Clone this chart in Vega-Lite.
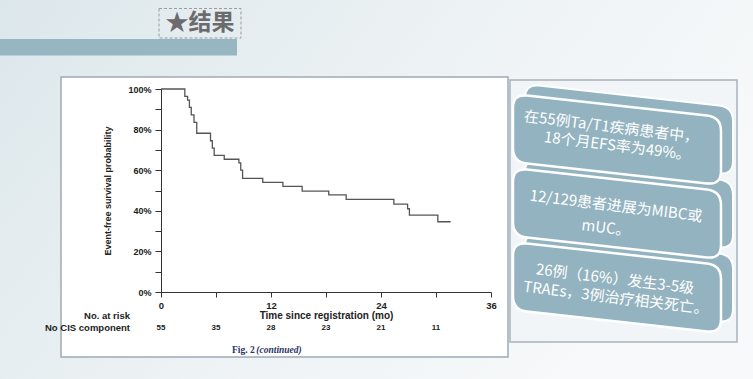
{
  "$schema": "https://vega.github.io/schema/vega-lite/v6.json",
  "width": 330,
  "height": 203,
  "autosize": {"type": "none"},
  "padding": {"left": 161, "top": 89, "right": 262, "bottom": 87},
  "background": "#eef3f5",
  "config": {
    "view": {"stroke": null},
    "axis": {
      "grid": false,
      "domainColor": "#333333",
      "tickColor": "#333333",
      "domainWidth": 1,
      "tickWidth": 1,
      "labelColor": "#222222",
      "titleColor": "#222222",
      "labelFont": "Liberation Sans",
      "titleFont": "Liberation Sans",
      "labelFontWeight": "bold",
      "titleFontWeight": "bold"
    }
  },
  "encoding": {
    "x": {
      "field": "t",
      "type": "quantitative",
      "scale": {"domain": [0, 36], "nice": false, "zero": false},
      "axis": {
        "zindex": 2,
        "title": "Time since registration (mo)",
        "values": [0, 6, 12, 18, 24, 30, 36],
        "labelExpr": "datum.value % 12 === 0 ? datum.label : ''",
        "tickSize": 5,
        "labelPadding": 3,
        "labelFontSize": 9.5,
        "titleFontSize": 10,
        "titlePadding": 1,
        "labelFlush": false,
        "labelOverlap": false
      }
    },
    "y": {
      "field": "p",
      "type": "quantitative",
      "scale": {"domain": [0, 1], "nice": false},
      "axis": {
        "zindex": 2,
        "title": "Event-free survival probability",
        "values": [0, 0.1, 0.2, 0.3, 0.4, 0.5, 0.6, 0.7, 0.8, 0.9, 1],
        "labelExpr": "round(datum.value * 10) % 2 === 0 ? format(datum.value, '.0%') : ''",
        "tickSize": 6,
        "labelPadding": 4,
        "labelFontSize": 9,
        "titleFontSize": 9,
        "titlePadding": 15,
        "labelOverlap": false
      }
    }
  },
  "layer": [
    {
      "data": {"values": [{"t": -18, "t2": 65, "p": 1.45, "p2": -0.44}]},
      "mark": {
        "type": "rect",
        "fill": {
          "gradient": "linear",
          "x1": 0, "y1": 0, "x2": 1, "y2": 0.4,
          "stops": [
            {"offset": 0, "color": "#dce7eb"},
            {"offset": 0.55, "color": "#edf2f4"},
            {"offset": 1, "color": "#f7f9fa"}
          ]
        }
      },
      "encoding": {"x2": {"field": "t2"}, "y2": {"field": "p2"}}
    },
    {
      "data": {"values": [{"t": -18, "t2": 8.29, "p": 1.2463, "p2": 1.165}]},
      "mark": {"type": "rect", "fill": "#96b6c2"},
      "encoding": {"x2": {"field": "t2"}, "y2": {"field": "p2"}}
    },
    {
      "data": {"values": [{"t": -0.218, "t2": 8.727, "p": 1.3966, "p2": 1.2512}]},
      "mark": {"type": "rect", "fill": "#ffffff", "fillOpacity": 0, "stroke": "#9b9b9b", "strokeWidth": 1, "strokeDash": [3, 2]},
      "encoding": {"x2": {"field": "t2"}, "y2": {"field": "p2"}}
    },
    {
      "data": {"values": [{"t": 4.255, "p": 1.3251, "label": "★结果"}]},
      "mark": {"type": "text", "font": "Noto Sans CJK SC", "fontWeight": "bold", "fontSize": 23, "color": "#6b6b6e", "align": "center", "baseline": "middle"},
      "encoding": {"text": {"field": "label"}}
    },
    {
      "data": {"values": [{"t": -10.909, "t2": 37.855, "p": 1.0591, "p2": -0.3202}]},
      "mark": {"type": "rect", "fill": "#ffffff", "stroke": "#9eabb6", "strokeWidth": 1.5},
      "encoding": {"x2": {"field": "t2"}, "y2": {"field": "p2"}}
    },
    {
      "data": {"values": [{"t": 38.073, "t2": 62.836, "p": 1.0443, "p2": -0.2463}]},
      "mark": {"type": "rect", "fill": "#f1f5f7", "stroke": "#a9b2b9", "strokeWidth": 1.5},
      "encoding": {"x2": {"field": "t2"}, "y2": {"field": "p2"}}
    },
    {
      "data": {"values": [{"t": 49.745, "p": 0.7512}, {"t": 49.745, "p": 0.3867}, {"t": 49.745, "p": 0.0222}]},
      "mark": {
        "type": "point",
        "shape": "M -0.65 -0.4496 L 0.85 -0.2837 Q 0.9667 -0.2708 0.9667 -0.1541 L 0.9667 0.1792 Q 0.9667 0.2959 0.85 0.283 L -0.65 0.1171 Q -0.7667 0.1042 -0.7667 -0.0125 L -0.7667 -0.3458 Q -0.7667 -0.4625 -0.65 -0.4496 Z",
        "size": 57600,
        "filled": true,
        "fill": "#93b3c0",
        "stroke": "#ffffff",
        "strokeWidth": 2,
        "opacity": 1,
        "fillOpacity": 1,
        "strokeOpacity": 1
      }
    },
    {
      "data": {"values": [{"t": 49.745, "p": 0.7512}, {"t": 49.745, "p": 0.3867}, {"t": 49.745, "p": 0.0222}]},
      "mark": {
        "type": "point",
        "shape": "M -0.75 -0.3663 L 0.75 -0.2004 Q 0.8667 -0.1875 0.8667 -0.0708 L 0.8667 0.2625 Q 0.8667 0.3792 0.75 0.3663 L -0.75 0.2004 Q -0.8667 0.1875 -0.8667 0.0708 L -0.8667 -0.2625 Q -0.8667 -0.3792 -0.75 -0.3663 Z",
        "size": 57600,
        "filled": true,
        "fill": "#93b3c0",
        "stroke": "#ffffff",
        "strokeWidth": 2.5,
        "opacity": 1,
        "fillOpacity": 1,
        "strokeOpacity": 1
      }
    },
    {
      "data": {"values": [
        {"t": 49.15, "p": 0.8128, "label": "在55例Ta/T1疾病患者中，"},
        {"t": 49.80, "p": 0.7192, "label": "18个月EFS率为49%。"},
        {"t": 49.64, "p": 0.4236, "label": "12/129患者进展为MIBC或"},
        {"t": 48.55, "p": 0.3153, "label": "mUC。"},
        {"t": 49.53, "p": 0.0640, "label": "26例（16%）发生3-5级"},
        {"t": 49.64, "p": -0.0296, "label": "TRAEs，3例治疗相关死亡。"}
      ]},
      "mark": {"type": "text", "font": "Noto Sans CJK SC", "fontSize": 15, "color": "#ffffff", "align": "center", "baseline": "middle", "angle": 7},
      "encoding": {"text": {"field": "label"}}
    },
    {
      "data": {"values": [
        {"t": 0, "p": 1}, {"t": 2.6, "p": 0.964}, {"t": 2.9, "p": 0.945}, {"t": 3.1, "p": 0.909},
        {"t": 3.3, "p": 0.873}, {"t": 3.6, "p": 0.836}, {"t": 3.9, "p": 0.782}, {"t": 5.4, "p": 0.745},
        {"t": 5.6, "p": 0.709}, {"t": 5.8, "p": 0.673}, {"t": 6.9, "p": 0.654}, {"t": 8.5, "p": 0.636},
        {"t": 8.7, "p": 0.6}, {"t": 8.9, "p": 0.56}, {"t": 11.1, "p": 0.54}, {"t": 13.3, "p": 0.52},
        {"t": 15.4, "p": 0.497}, {"t": 18.3, "p": 0.478}, {"t": 20.2, "p": 0.456}, {"t": 25.4, "p": 0.433},
        {"t": 26.9, "p": 0.41}, {"t": 27.1, "p": 0.379}, {"t": 30.2, "p": 0.346}, {"t": 31.6, "p": 0.346}
      ]},
      "mark": {"type": "line", "interpolate": "step-after", "color": "#555555", "strokeWidth": 1.3}
    },
    {
      "data": {"values": [
        {"t": 0, "p": -0.1788, "n": "55"}, {"t": 6, "p": -0.1788, "n": "35"}, {"t": 12, "p": -0.1788, "n": "28"},
        {"t": 18, "p": -0.1788, "n": "23"}, {"t": 24, "p": -0.1788, "n": "21"}, {"t": 30, "p": -0.1788, "n": "11"}
      ]},
      "mark": {"type": "text", "font": "Liberation Sans", "fontWeight": "bold", "fontSize": 8, "color": "#222222", "align": "center", "baseline": "middle"},
      "encoding": {"text": {"field": "n", "type": "nominal"}}
    },
    {
      "data": {"values": [
        {"t": -3.382, "p": -0.1158, "label": "No. at risk"},
        {"t": -3.382, "p": -0.1788, "label": "No CIS component"}
      ]},
      "mark": {"type": "text", "font": "Liberation Sans", "fontWeight": "bold", "fontSize": 9.5, "color": "#222222", "align": "right", "baseline": "middle"},
      "encoding": {"text": {"field": "label"}}
    },
    {
      "data": {"values": [{"t": 7.745, "p": -0.2857, "label": "Fig. 2"}]},
      "mark": {"type": "text", "font": "Liberation Serif", "fontWeight": "bold", "fontSize": 9.5, "color": "#2b3567", "align": "left", "baseline": "middle"},
      "encoding": {"text": {"field": "label"}}
    },
    {
      "data": {"values": [{"t": 10.4, "p": -0.2857, "label": "(continued)"}]},
      "mark": {"type": "text", "font": "Liberation Serif", "fontWeight": "bold", "fontStyle": "italic", "fontSize": 9.5, "color": "#2b3567", "align": "left", "baseline": "middle"},
      "encoding": {"text": {"field": "label"}}
    }
  ]
}
